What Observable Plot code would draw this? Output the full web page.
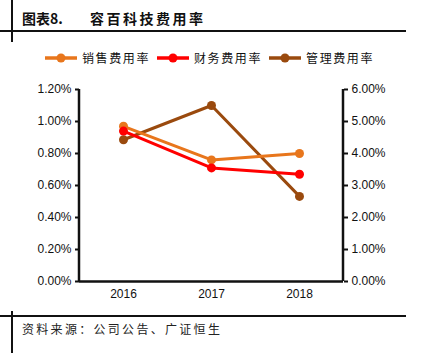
<!DOCTYPE html>
<html><head><meta charset="utf-8">
<script src="https://cdn.jsdelivr.net/npm/d3@7"></script>
<script src="https://cdn.jsdelivr.net/npm/@observablehq/plot@0.6"></script>
<style>
body{margin:0;background:#fff;}
#wrap{position:relative;width:422px;height:353px;overflow:hidden;font-family:"Noto Sans CJK SC",sans-serif;}
.abs{position:absolute;}
#title{left:22px;top:8px;font-size:14px;font-weight:bold;color:#111;white-space:pre;}
#title .t2{position:absolute;left:68px;top:0;letter-spacing:2.5px;}
#legend{left:44px;top:49px;font-size:12px;color:#111;display:flex;align-items:center;letter-spacing:1.6px;}
#legend .it{display:flex;align-items:center;margin-right:6px;}
#caption{left:22px;top:320px;font-size:12px;color:#222;letter-spacing:2.3px;}
#chart{left:0;top:0;}
</style></head>
<body>
<div id="wrap">
  <div class="abs" style="left:0;top:30px;width:406px;height:2px;background:#111"></div>
  <div class="abs" style="left:11px;top:0;width:2px;height:42px;background:#111"></div>
  <div class="abs" style="left:0;top:315px;width:406px;height:2px;background:#111"></div>
  <div class="abs" style="left:11px;top:311px;width:2px;height:42px;background:#111"></div>
  <div id="title" class="abs"><span>图表8.</span><span class="t2">容百科技费用率</span></div>
  <div id="legend" class="abs"></div>
  <div id="chart" class="abs"></div>
  <div id="caption" class="abs">资料来源：公司公告、广证恒生</div>
</div>
<script>
const years = ["2016", "2017", "2018"];
const salesRate = [0.97, 0.76, 0.80];     // 销售费用率 (%), left axis
const financeRate = [0.94, 0.71, 0.67];   // 财务费用率 (%), left axis
const mgmtRate = [4.43, 5.50, 2.66];      // 管理费用率 (%), right axis
const seriesNames = ["销售费用率", "财务费用率", "管理费用率"];
const colors = ["#E8761C", "#FF0000", "#9A4A0E"];
const leftTicks = [0, 0.2, 0.4, 0.6, 0.8, 1.0, 1.2];
const rightTicks = [0, 1, 2, 3, 4, 5, 6];

const ratio = 5; // right axis / left axis
const rows = [];
years.forEach((y, i) => {
  rows.push({year: y, series: seriesNames[0], v: salesRate[i], yv: salesRate[i]});
  rows.push({year: y, series: seriesNames[1], v: financeRate[i], yv: financeRate[i]});
  rows.push({year: y, series: seriesNames[2], v: mgmtRate[i], yv: mgmtRate[i] / ratio});
});
const order = [seriesNames[2], seriesNames[0], seriesNames[1]];
const plot = Plot.plot({
  width: 422, height: 305,
  marginLeft: 79, marginRight: 79, marginTop: 89, marginBottom: 24,
  style: {fontFamily: "'Liberation Sans', Arial, sans-serif", fontSize: "12px", color: "#111", background: "transparent"},
  x: {type: "point", domain: years, padding: 0.5, label: null},
  y: {domain: [0, 1.2], label: null},
  color: {domain: seriesNames, range: colors},
  marks: [
    Plot.axisY({ticks: leftTicks, tickFormat: d => d.toFixed(2) + "%", tickSize: 4, tickPadding: 4, strokeWidth: 2, label: null}),
    Plot.axisY({anchor: "right", ticks: rightTicks.map(t => t / ratio), tickFormat: d => (d * ratio).toFixed(2) + "%", tickSize: 4, tickPadding: 4, strokeWidth: 2, label: null}),
    Plot.axisX({tickSize: 0, tickPadding: 8, label: null, fontSize: 12}),
    Plot.ruleY([0], {stroke: "#111", strokeWidth: 2.5}),
    ...order.map(s => Plot.line(rows.filter(r => r.series === s), {x: "year", y: "yv", stroke: colors[seriesNames.indexOf(s)], strokeWidth: 3})),
    ...order.map(s => Plot.dot(rows.filter(r => r.series === s), {x: "year", y: "yv", fill: colors[seriesNames.indexOf(s)], r: 4.5}))
  ]
});
document.getElementById("chart").appendChild(plot);

// left & right axis lines
const svg = d3.select(plot);
[79, 343].forEach(x => svg.append("line").attr("x1", x).attr("x2", x).attr("y1", 89).attr("y2", 281).attr("stroke", "#111").attr("stroke-width", 2.5));

const leg = document.getElementById("legend");
seriesNames.forEach((n, i) => {
  const it = document.createElement("div");
  it.className = "it";
  it.innerHTML = `<svg width="34" height="12" style="margin-right:4px"><line x1="1" x2="33" y1="6" y2="6" stroke="${colors[i]}" stroke-width="3.5"/><circle cx="17" cy="6" r="4.5" fill="${colors[i]}"/></svg><span>${n}</span>`;
  leg.appendChild(it);
});
</script>
</body></html>
